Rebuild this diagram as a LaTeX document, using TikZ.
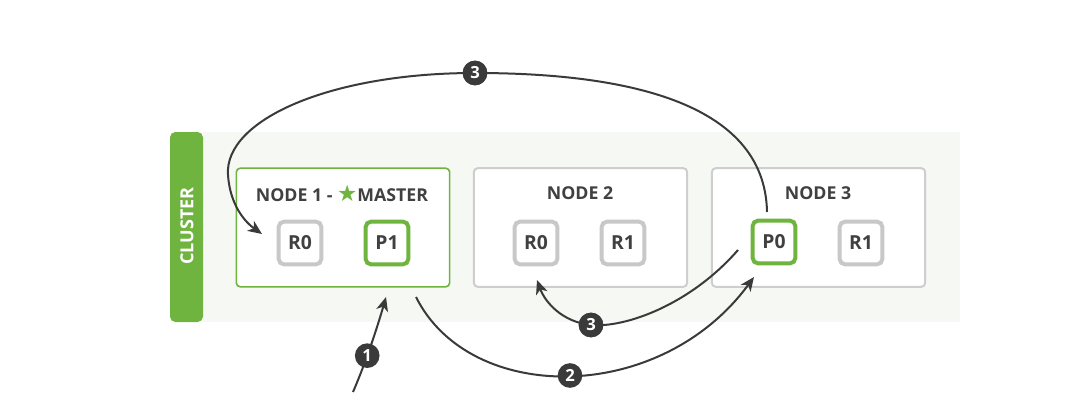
\documentclass[tikz,border=0pt]{standalone}
\usepackage{fontspec}
\setmainfont{Open Sans}
\newfontfamily\symfont{DejaVu Sans}
\usetikzlibrary{arrows.meta}
\definecolor{esgreen}{RGB}{110,180,62}
\definecolor{shardgray}{RGB}{200,200,200}
\definecolor{boxgray}{RGB}{206,206,206}
\definecolor{panel}{RGB}{246,248,243}
\definecolor{ink}{RGB}{58,58,58}
\definecolor{txt}{RGB}{64,64,64}
\tikzset{
  nodebox/.style={draw=boxgray, line width=1.5pt, fill=white, rounded corners=3pt,
    minimum width=160pt, minimum height=89pt, inner sep=0pt},
  masterbox/.style={nodebox, draw=esgreen, line width=1.2pt},
  shard/.style={draw=shardgray, line width=3pt, fill=white, rounded corners=4pt,
    minimum width=32pt, minimum height=32pt, inner sep=0pt,
    font=\bfseries\fontsize{14.5}{14.5}\selectfont, text=txt},
  primary/.style={shard, draw=esgreen},
  title/.style={font=\bfseries\fontsize{13.3}{13.3}\selectfont, text=txt, inner sep=0pt},
  step label/.style={circle, fill=ink, text=white, inner sep=0pt, minimum size=18.5pt,
    font=\bfseries\fontsize{12.5}{12.5}\selectfont},
  flow/.style={draw=ink, line width=1.5pt, -{Stealth[length=10.5pt,width=9pt,inset=3pt]}},
  flowplain/.style={draw=ink, line width=1.5pt},
}
\begin{document}
\begin{tikzpicture}[x=0.75pt,y=-0.75pt]
\useasboundingbox (0,0) rectangle (1077,418);

% cluster panel and side bar
\fill[panel] (203,132) rectangle (960,322);
\fill[esgreen, rounded corners=4pt] (203,132) -- (170,132) -- (170,322) -- (203,322) -- cycle;
\node[rotate=90, text=white, font=\bfseries\fontsize{13.5}{13.5}\selectfont, inner sep=0pt]
  (clusterlabel) at (187,226) {CLUSTER};

% the three nodes
\node[masterbox] (node1) at (343,227.5) {};
\node[nodebox]   (node2) at (580.5,227.5) {};
\node[nodebox]   (node3) at (818.5,227.5) {};

\node[title] (t1) at (342,193) {NODE 1 - {\color{esgreen}\symfont\fontsize{17}{17}\selectfont ★}MASTER};
\node[title] (t2) at (580,193) {NODE 2};
\node[title] (t3) at (818,193) {NODE 3};

% shards
\node[shard]   (n1r0) at (300,243) {R0};
\node[primary] (n1p1) at (387,243) {P1};
\node[shard]   (n2r0) at (536,243) {R0};
\node[shard]   (n2r1) at (623,243) {R1};
\node[primary] (n3p0) at (774,242) {P0};
\node[shard]   (n3r1) at (861,243) {R1};

% request flow
\coordinate (client) at (353,392);
\coordinate (in1) at (386,297);
\coordinate (out2) at (416,297);
\coordinate (to2) at (754,277);
\coordinate (out3) at (738,250);
\coordinate (to3) at (537,280);
\coordinate (up3) at (767,212);
\coordinate (to3b) at (262,234);

\draw[flow] (client) .. controls (366,362) and (378,325) .. (in1)
  node[step label, pos=0.38] (s1) {1};
\draw[flow] (out2) .. controls (470,405) and (660,405) .. (to2)
  node[step label, pos=0.5] (s2) {2};
\node[step label] (s3a) at (591,325) {3};
\draw[flowplain] (out3) .. controls (690,305) and (625,328) .. (s3a.center);
\draw[flow] (s3a.center) .. controls (562,322) and (545,302) .. (to3);
\node[step label] (s3b) at (475,73) {3};
\draw[flowplain] (up3) .. controls (765,100) and (620,73) .. (s3b.center);
\draw[flow] (s3b.center) .. controls (330,73) and (224,120) .. (228,175)
  .. controls (230,205) and (245,222) .. (to3b);
\node[step label] at (s3a) {3};
\node[step label] at (s3b) {3};
\end{tikzpicture}
\end{document}
